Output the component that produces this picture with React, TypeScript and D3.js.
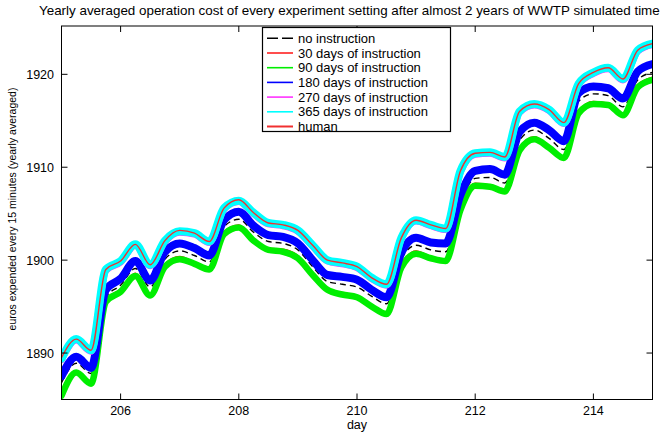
import React from 'react';
import * as d3 from 'd3';

const width = 664;
const height = 433;
const margin = {top: 26, right: 11.5, bottom: 33.5, left: 61.5};
const font = '"Liberation Sans", Arial, Helvetica, sans-serif';

const titleText = 'Yearly averaged operation cost of every experiment setting after almost 2 years of WWTP simulated time';
const xLabel = 'day';
const yLabel = 'euros expended every 15 minutes (yearly averaged)';
const xTicks = [206, 208, 210, 212, 214];
const yTicks = [1890, 1900, 1910, 1920];

const days = [
  205, 205.25, 205.5, 205.75, 206, 206.25, 206.5, 206.75, 207, 207.25, 207.5, 207.75,
  208, 208.25, 208.5, 208.75, 209, 209.25, 209.5, 209.75, 210, 210.25, 210.5, 210.75,
  211, 211.25, 211.5, 211.75, 212, 212.25, 212.5, 212.75, 213, 213.25, 213.5, 213.75,
  214, 214.25, 214.5, 214.75, 215,
];

const noInstruction = [
  1886.8, 1888.9, 1887.8, 1896.0, 1897.3, 1899.1, 1897.1, 1900.1, 1901.0, 1900.5, 1899.8, 1903.6,
  1904.4, 1903.0, 1902.0, 1901.8, 1901.1, 1899.3, 1897.7, 1897.4, 1897.1, 1896.1, 1895.3, 1900.1,
  1901.6, 1901.1, 1900.9, 1906.2, 1908.8, 1908.9, 1908.3, 1912.9, 1914.0, 1913.1, 1911.9, 1917.1,
  1917.9, 1917.7, 1916.5, 1919.4, 1920.2,
];
const days30 = [
  1885.7, 1888.1, 1886.9, 1895.8, 1896.9, 1898.6, 1896.4, 1899.6, 1900.4, 1899.8, 1899.2, 1903.1,
  1903.8, 1902.3, 1901.3, 1901.2, 1900.5, 1898.6, 1897.0, 1896.5, 1896.2, 1895.2, 1894.4, 1899.5,
  1901.0, 1900.4, 1900.1, 1905.7, 1908.3, 1908.1, 1907.6, 1912.1, 1913.3, 1912.3, 1911.2, 1916.1,
  1917.1, 1916.9, 1915.8, 1918.9, 1919.7,
];
const days90 = [
  1885.4, 1887.9, 1886.7, 1895.5, 1896.6, 1898.3, 1896.2, 1899.3, 1900.1, 1899.6, 1899.0, 1902.8,
  1903.5, 1902.1, 1901.1, 1900.9, 1900.2, 1898.4, 1896.8, 1896.3, 1896.0, 1895.0, 1894.2, 1899.2,
  1900.7, 1900.2, 1899.9, 1905.4, 1908.0, 1907.9, 1907.4, 1911.8, 1913.0, 1912.1, 1911.0, 1915.8,
  1916.8, 1916.7, 1915.6, 1918.6, 1919.4,
];
const days180 = [
  1887.5, 1889.6, 1888.4, 1896.8, 1898.0, 1899.9, 1897.8, 1900.9, 1901.8, 1901.3, 1900.5, 1904.3,
  1905.2, 1903.7, 1902.7, 1902.5, 1901.8, 1900.0, 1898.4, 1898.2, 1897.9, 1896.8, 1896.0, 1900.8,
  1902.4, 1901.9, 1901.8, 1907.0, 1909.6, 1909.8, 1909.2, 1913.8, 1914.8, 1914.0, 1912.8, 1918.0,
  1918.7, 1918.5, 1917.4, 1920.3, 1921.1,
];
const days270 = [
  1889.3, 1891.4, 1890.2, 1898.9, 1899.8, 1901.6, 1899.4, 1902.0, 1903.0, 1902.8, 1901.9, 1905.5,
  1906.3, 1905.0, 1903.9, 1903.7, 1903.1, 1901.5, 1899.9, 1899.6, 1899.2, 1898.0, 1897.3, 1902.3,
  1904.2, 1903.7, 1903.3, 1909.5, 1911.4, 1911.5, 1911.0, 1915.9, 1916.7, 1916.1, 1914.7, 1918.9,
  1920.1, 1920.6, 1919.4, 1922.5, 1923.2,
];
const days365 = [
  1889.4, 1891.5, 1890.3, 1899.0, 1899.9, 1901.7, 1899.5, 1902.1, 1903.1, 1902.9, 1902.0, 1905.6,
  1906.4, 1905.1, 1904.0, 1903.8, 1903.2, 1901.6, 1900.0, 1899.7, 1899.3, 1898.1, 1897.4, 1902.4,
  1904.3, 1903.8, 1903.4, 1909.6, 1911.5, 1911.6, 1911.1, 1916.0, 1916.8, 1916.2, 1914.8, 1919.0,
  1920.2, 1920.7, 1919.5, 1922.6, 1923.3,
];
const human = [
  1889.5, 1891.5, 1890.3, 1899.0, 1899.9, 1901.7, 1899.5, 1902.1, 1903.2, 1902.9, 1902.0, 1905.6,
  1906.5, 1905.1, 1904.0, 1903.8, 1903.2, 1901.6, 1900.0, 1899.7, 1899.3, 1898.1, 1897.4, 1902.4,
  1904.3, 1903.8, 1903.4, 1909.6, 1911.5, 1911.6, 1911.1, 1916.0, 1916.8, 1916.2, 1914.8, 1919.0,
  1920.2, 1920.7, 1919.5, 1922.6, 1923.3,
];

// drawing order = legend order, later ones sit on top
const series = [
  {name: 'no instruction', values: noInstruction, color: '#000000', width: 1.4, dash: '6,4', legendDash: '11,4', legendWidth: 1.4},
  {name: '30 days of instruction', values: days30, color: '#ff0000', width: 1.1, dash: null, legendDash: null, legendWidth: 1.4},
  {name: '90 days of instruction', values: days90, color: '#00ee00', width: 6.5, dash: null, legendDash: null, legendWidth: 1.6},
  {name: '180 days of instruction', values: days180, color: '#0000ff', width: 8, dash: null, legendDash: null, legendWidth: 1.6},
  {name: '270 days of instruction', values: days270, color: '#ff33ff', width: 7, dash: null, legendDash: null, legendWidth: 1.6},
  {name: '365 days of instruction', values: days365, color: '#00ffff', width: 8, dash: null, legendDash: null, legendWidth: 1.6},
  {name: 'human', values: human, color: '#f03030', width: 1.4, dash: null, legendDash: null, legendWidth: 2},
];

export default function App() {
  const x = d3.scaleLinear().domain([205, 215]).range([margin.left, width - margin.right]);
  const y = d3.scaleLinear().domain([1885, 1925.2]).range([height - margin.bottom, margin.top]);

  const line = d3.line<number>()
    .x((d, i) => x(days[i]))
    .y(d => y(d))
    .curve(d3.curveMonotoneX);

  const x0 = x.range()[0], x1 = x.range()[1];
  const y0 = y.range()[0], y1 = y.range()[1];
  const tickLen = 6;

  // legend box
  const lg = {x: 262.5, y: 27.5, w: 188, h: 104, row: 14.7, first: 38.3};

  return (
    <svg width={width} height={height} style={{position: 'absolute', left: 0, top: 0}} fontFamily={font}>
      <rect width={width} height={height} fill='#ffffff'/>
      <defs>
        <clipPath id='plot'>
          <rect x={x0} y={y1} width={x1 - x0} height={y0 - y1}/>
        </clipPath>
      </defs>

      <g clipPath='url(#plot)'>
        {series.map(s => (
          <path key={s.name} d={line(s.values) || ''} fill='none' stroke={s.color}
                strokeWidth={s.width} strokeDasharray={s.dash || undefined}
                strokeLinejoin='round' strokeLinecap={s.dash ? 'butt' : 'round'}/>
        ))}
      </g>

      {/* box */}
      <rect x={x0} y={y1} width={x1 - x0} height={y0 - y1} fill='none' stroke='#000' strokeWidth={1}/>

      {/* x ticks */}
      {xTicks.map(t => (
        <g key={'x' + t}>
          <line x1={x(t)} x2={x(t)} y1={y0} y2={y0 - tickLen} stroke='#000'/>
          <line x1={x(t)} x2={x(t)} y1={y1} y2={y1 + tickLen} stroke='#000'/>
          <text x={x(t)} y={415} textAnchor='middle' fontSize={12.5}>{t}</text>
        </g>
      ))}

      {/* y ticks */}
      {yTicks.map(t => (
        <g key={'y' + t}>
          <line x1={x0} x2={x0 + tickLen} y1={y(t)} y2={y(t)} stroke='#000'/>
          <line x1={x1} x2={x1 - tickLen} y1={y(t)} y2={y(t)} stroke='#000'/>
          <text x={54} y={y(t) + 4.5} textAnchor='end' fontSize={12.5}>{t}</text>
        </g>
      ))}

      <text x={357} y={429} textAnchor='middle' fontSize={12.5}>{xLabel}</text>
      <text transform={`translate(16, 209) rotate(-90)`} textAnchor='middle' fontSize={10.5}>{yLabel}</text>
      <text x={39} y={15} fontSize={13.4}>{titleText}</text>

      {/* legend */}
      <rect x={lg.x} y={lg.y} width={lg.w} height={lg.h} fill='#ffffff' stroke='#000' strokeWidth={1.2}/>
      {series.map((s, i) => {
        const ry = lg.first + i * lg.row;
        return (
          <g key={'lg' + s.name}>
            <line x1={267} x2={293} y1={ry} y2={ry} stroke={s.color} strokeWidth={s.legendWidth}
                  strokeDasharray={s.legendDash || undefined}/>
            <text x={298} y={ry + 4.5} fontSize={13}>{s.name}</text>
          </g>
        );
      })}
    </svg>
  );
}
